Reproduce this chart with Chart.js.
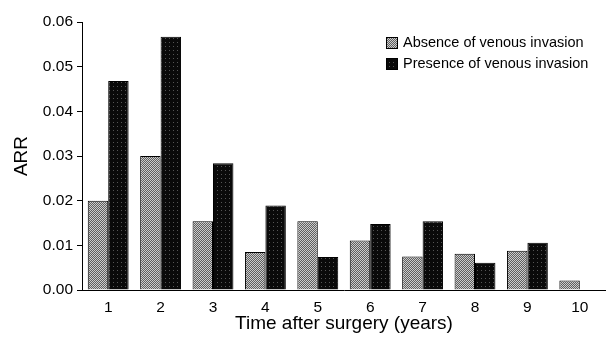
<!DOCTYPE html>
<html lang="en">
<head>
  <meta charset="UTF-8">
  <title>ARR by time after surgery</title>
  <script src="https://cdn.jsdelivr.net/npm/chart.js"></script>
  <style>
    html, body {
      margin: 0;
      padding: 0;
      background: #ffffff;
    }
    .wrap {
      width: 606px;
      height: 338px;
    }
  </style>
</head>
<body>
  <div class="wrap">
    <canvas id="arrChart" width="606" height="338"></canvas>
  </div>

  <script>
    const years = ['1', '2', '3', '4', '5', '6', '7', '8', '9', '10'];
    const absenceArr = [0.020, 0.030, 0.0154, 0.0085, 0.0154, 0.0111, 0.0075, 0.0081, 0.0088, 0.0021];
    const presenceArr = [0.0468, 0.0567, 0.0284, 0.0189, 0.0074, 0.0148, 0.0154, 0.0061, 0.0106, null];
    const seriesNames = ['Absence of venous invasion', 'Presence of venous invasion'];
    const yTicks = [0, 0.01, 0.02, 0.03, 0.04, 0.05, 0.06];

    const FONT = "'Liberation Sans', Arial, sans-serif";

    // halftone-ish fills, like the printed figure
    function makePattern(dark, light, dense) {
      const c = document.createElement('canvas');
      c.width = 4; c.height = 4;
      const g = c.getContext('2d');
      g.fillStyle = dark;
      g.fillRect(0, 0, 4, 4);
      g.fillStyle = light;
      for (let y = 0; y < 4; y++) {
        for (let x = 0; x < 4; x++) {
          if (dense ? (x + y) % 2 === 0 : (x === 1 && y === 2)) g.fillRect(x, y, 1, 1);
        }
      }
      return g.createPattern(c, 'repeat');
    }
    const grayFill = makePattern('#5f5f5f', '#cccccc', true);
    const blackFill = makePattern('#0a0a0a', '#555555', false);

    const boxLegend = {
      id: 'boxLegend',
      afterDraw(chart) {
        const ctx = chart.ctx;
        ctx.save();
        ctx.font = '14.5px ' + FONT;
        ctx.textBaseline = 'middle';
        chart.data.datasets.forEach((ds, i) => {
          const y = 43 + i * 21;
          ctx.fillStyle = ds.backgroundColor;
          ctx.fillRect(386, y - 6, 12, 12);
          ctx.strokeStyle = '#000';
          ctx.lineWidth = 1;
          ctx.strokeRect(386.5, y - 5.5, 11, 11);
          ctx.fillStyle = '#000';
          ctx.fillText(ds.label, 403, y);
        });
        ctx.restore();
      }
    };

    new Chart(document.getElementById('arrChart'), {
      type: 'bar',
      data: {
        labels: years,
        datasets: [
          {
            label: seriesNames[0],
            data: absenceArr,
            backgroundColor: grayFill,
            borderColor: '#000',
            borderWidth: 1
          },
          {
            label: seriesNames[1],
            data: presenceArr,
            backgroundColor: blackFill,
            borderColor: '#000',
            borderWidth: 1
          }
        ]
      },
      options: {
        responsive: false,
        animation: false,
        layout: { padding: { top: 22, right: 0, left: 0, bottom: 0 } },
        plugins: {
          legend: { display: false },
          tooltip: { enabled: false }
        },
        datasets: {
          bar: { categoryPercentage: 0.78, barPercentage: 1.0 }
        },
        scales: {
          x: {
            grid: { display: false },
            border: { display: true, color: '#000', width: 1 },
            ticks: { color: '#000', font: { family: FONT, size: 15.5 }, padding: 0 },
            title: {
              display: true,
              text: 'Time after surgery (years)',
              color: '#000',
              font: { family: FONT, size: 19 },
              padding: { top: 0, bottom: 3 }
            },
            afterFit(scale) { scale.height = 48; }
          },
          y: {
            min: 0,
            max: 0.06,
            afterBuildTicks(scale) {
              scale.ticks = yTicks.map(v => ({ value: v }));
            },
            grid: {
              drawOnChartArea: false,
              drawTicks: true,
              tickLength: 5,
              color: '#000'
            },
            border: { display: true, color: '#000', width: 1 },
            ticks: {
              color: '#000',
              font: { family: FONT, size: 15.5 },
              padding: 4,
              callback: v => v.toFixed(2)
            },
            title: {
              display: true,
              text: 'ARR',
              color: '#000',
              font: { family: FONT, size: 19 },
              padding: { top: 10, bottom: 4 }
            },
            afterFit(scale) { scale.width = 82; }
          }
        }
      },
      plugins: [boxLegend]
    });
  </script>
</body>
</html>
